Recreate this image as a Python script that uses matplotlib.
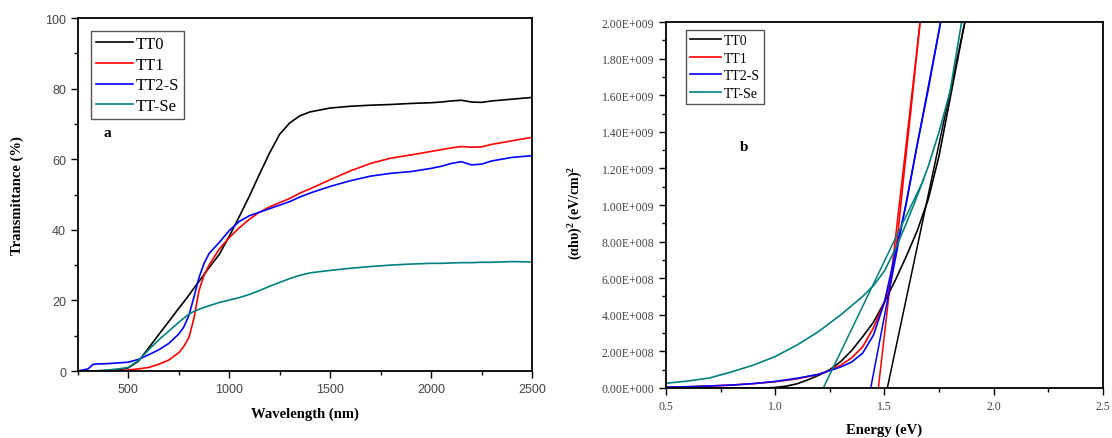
import numpy as np
import matplotlib
matplotlib.use("Agg")
import matplotlib.pyplot as plt
from matplotlib.ticker import MultipleLocator, FuncFormatter

plt.rcParams["font.family"] = "Liberation Serif"
plt.rcParams["mathtext.fontset"] = "custom"
plt.rcParams["mathtext.rm"] = "Liberation Serif:bold"
plt.rcParams["mathtext.it"] = "Liberation Serif:bold"
plt.rcParams["mathtext.bf"] = "Liberation Serif:bold"

# --- (a) transmittance vs wavelength ---
wl = [250, 300, 325, 350, 400, 450, 500, 550, 600, 650, 700, 750, 775, 800, 825, 850,
      875, 900, 950, 1000, 1050, 1100, 1150, 1200, 1250, 1300, 1350, 1400, 1500, 1600,
      1700, 1800, 1900, 2000, 2050, 2100, 2150, 2200, 2250, 2300, 2400, 2500]
t_tt0 = [0, 0, 0, 0, 0.1, 0.3, 0.9, 2.8, 6.5, 10.3, 14.0, 17.8, 19.6, 21.5, 23.5, 25.4,
         27.3, 29.3, 33.0, 38.2, 43.8, 49.6, 55.8, 61.8, 67.1, 70.3, 72.3, 73.4, 74.5, 75.0,
         75.3, 75.5, 75.8, 76.0, 76.2, 76.5, 76.7, 76.2, 76.1, 76.5, 77.0, 77.5]
t_tt1 = [0, 0, 0, 0, 0, 0.1, 0.3, 0.6, 1.0, 1.9, 3.1, 5.2, 7.0, 9.5, 15.0, 22.8,
         27.2, 30.0, 34.5, 37.8, 40.6, 43.0, 45.0, 46.5, 47.7, 48.9, 50.4, 51.6, 54.2, 56.7,
         58.8, 60.3, 61.2, 62.2, 62.7, 63.2, 63.6, 63.4, 63.5, 64.2, 65.2, 66.2]
t_tt2s = [0, 0.6, 1.9, 2.0, 2.1, 2.3, 2.5, 3.3, 4.6, 6.0, 7.8, 10.5, 12.5, 15.8, 21.0, 26.5,
          30.5, 33.3, 36.4, 39.8, 42.4, 44.0, 45.0, 46.0, 47.0, 48.0, 49.3, 50.4, 52.3, 53.9,
          55.2, 56.0, 56.5, 57.4, 58.0, 58.8, 59.3, 58.4, 58.6, 59.5, 60.5, 61.0]
t_ttse = [0, 0, 0, 0.1, 0.3, 0.6, 1.0, 3.0, 6.0, 8.8, 11.3, 13.8, 15.0, 16.1, 16.9, 17.5,
          18.0, 18.5, 19.4, 20.1, 20.8, 21.7, 22.8, 24.0, 25.1, 26.2, 27.1, 27.8, 28.5, 29.1,
          29.6, 30.0, 30.3, 30.5, 30.5, 30.6, 30.7, 30.7, 30.8, 30.8, 31.0, 30.9]

# --- (b) Tauc plot, values x1e8 ---
e_tt0 = [0.5, 0.8, 0.95, 1.0, 1.05, 1.1, 1.15, 1.2, 1.25, 1.3, 1.35, 1.4, 1.45, 1.5,
         1.55, 1.6, 1.65, 1.7, 1.75, 1.8, 1.85, 1.868]
a_tt0 = [0, 0, 0, 0.03, 0.1, 0.23, 0.45, 0.7, 1.0, 1.45, 2.05, 2.8, 3.6, 4.7,
         5.9, 7.2, 8.6, 10.3, 12.7, 15.8, 18.9, 20.0]
e_tt1 = [0.5, 0.6, 0.7, 0.8, 0.9, 1.0, 1.1, 1.2, 1.25, 1.3, 1.35, 1.4, 1.45, 1.5,
         1.53, 1.56, 1.59, 1.62, 1.663]
a_tt1 = [0.04, 0.07, 0.11, 0.16, 0.24, 0.34, 0.5, 0.75, 0.97, 1.25, 1.65, 2.25, 3.3, 4.7,
         5.9, 8.3, 11.8, 15.1, 20.0]
e_tt2s = [0.5, 0.6, 0.7, 0.8, 0.9, 1.0, 1.1, 1.2, 1.25, 1.3, 1.35, 1.4, 1.45, 1.5,
          1.55, 1.6, 1.65, 1.7, 1.757]
a_tt2s = [0.04, 0.07, 0.11, 0.16, 0.24, 0.36, 0.53, 0.75, 0.95, 1.15, 1.42, 1.9, 2.9, 4.7,
          7.4, 10.1, 13.3, 16.3, 20.0]
e_ttse = [0.5, 0.6, 0.7, 0.8, 0.9, 1.0, 1.1, 1.2, 1.3, 1.4, 1.45, 1.5, 1.55, 1.6,
          1.65, 1.7, 1.75, 1.8, 1.853]
a_ttse = [0.26, 0.38, 0.55, 0.88, 1.25, 1.72, 2.35, 3.1, 4.0, 5.0, 5.6, 6.4, 7.6, 9.0,
          10.5, 12.1, 14.0, 16.2, 20.0]

# linear fits (band gap extrapolation): [E start, E end], [value start, value end] (x1e8)
fit_tt0 = ([1.513, 1.868], [0, 20.0])
fit_tt1 = ([1.472, 1.663], [0, 20.0])
fit_tt2s = ([1.437, 1.757], [0, 20.0])
fit_ttse = ([1.22, 1.68], [0, 11.4])

names = ["TT0", "TT1", "TT2-S", "TT-Se"]
colors = ["#000000", "#ff0000", "#0000ff", "#008080"]

fig = plt.figure(figsize=(11.12, 4.39), dpi=100)
ax1 = fig.add_axes([0.0701, 0.1526, 0.4083, 0.8041])
ax2 = fig.add_axes([0.5989, 0.1139, 0.3930, 0.8337])

for ys, nm, c in zip([t_tt0, t_tt1, t_tt2s, t_ttse], names, colors):
    ax1.plot(wl, ys, color=c, lw=1.2, label=nm)

ax1.set_xlim(250, 2500)
ax1.set_ylim(0, 100)
ax1.xaxis.set_major_locator(MultipleLocator(500))
ax1.xaxis.set_minor_locator(MultipleLocator(250))
ax1.yaxis.set_major_locator(MultipleLocator(20))
ax1.yaxis.set_minor_locator(MultipleLocator(10))
ax1.set_xlabel("Wavelength (nm)", fontsize=10.5, fontweight="bold")
ax1.set_ylabel("Transmittance (%)", fontsize=10.5, fontweight="bold")
ax1.xaxis.set_label_coords(0.5, -0.10)
ax1.yaxis.set_label_coords(-0.118, 0.5)
ax1.text(0.064, 0.677, "a", transform=ax1.transAxes, fontsize=11,
         fontweight="bold", ha="center", va="center")
leg1 = ax1.legend(loc="upper left", bbox_to_anchor=(0.0286, 0.963), borderaxespad=0,
                  fontsize=12, handlelength=2.2, handletextpad=0.2, labelspacing=0.28,
                  borderpad=0.3, fancybox=False, framealpha=1)
leg1.get_frame().set_edgecolor("#555555")

curves = [(e_tt0, a_tt0), (e_tt1, a_tt1), (e_tt2s, a_tt2s), (e_ttse, a_ttse)]
fits = [fit_tt0, fit_tt1, fit_tt2s, fit_ttse]
for (ex, ay), (fx, fy), nm, c in zip(curves, fits, names, colors):
    ax2.plot(ex, np.array(ay) * 1e8, color=c, lw=1.2, label=nm)
    ax2.plot(fx, np.array(fy) * 1e8, color=c, lw=1.1)

ax2.set_xlim(0.5, 2.5)
ax2.set_ylim(0, 2e9)
ax2.xaxis.set_major_locator(MultipleLocator(0.5))
ax2.xaxis.set_minor_locator(MultipleLocator(0.25))
ax2.yaxis.set_major_locator(MultipleLocator(2e8))
ax2.yaxis.set_minor_locator(MultipleLocator(1e8))
ax2.xaxis.set_major_formatter(FuncFormatter(lambda v, p: f"{v:.1f}"))


def sci_fmt(v, p):
    if v <= 0:
        return "0.00E+000"
    ex = int(np.floor(np.log10(v) + 1e-9))
    return f"{v / 10 ** ex:.2f}E+{ex:03d}"


ax2.yaxis.set_major_formatter(FuncFormatter(sci_fmt))
ax2.set_xlabel("Energy (eV)", fontsize=10.5, fontweight="bold")
ax2.set_ylabel("(αhυ)$^{2}$ (eV/cm)$^{2}$", fontsize=10, fontweight="bold")
ax2.xaxis.set_label_coords(0.5, -0.095)
ax2.yaxis.set_label_coords(-0.185, 0.48)
ax2.text(0.178, 0.661, "b", transform=ax2.transAxes, fontsize=11,
         fontweight="bold", ha="center", va="center")
leg2 = ax2.legend(loc="upper left", bbox_to_anchor=(0.0458, 0.978), borderaxespad=0,
                  fontsize=10, handlelength=2.2, handletextpad=0.2, labelspacing=0.32,
                  borderpad=0.3, fancybox=False, framealpha=1)
leg2.get_frame().set_edgecolor("#555555")

for ax, fam, fs in [(ax1, "Liberation Sans", 9), (ax2, "Liberation Serif", 8.5)]:
    for s in ax.spines.values():
        s.set_linewidth(1.3)
    ax.tick_params(which="both", direction="out", top=False, right=False,
                   labelcolor="#444444", width=1)
    ax.tick_params(which="major", length=5, labelsize=fs)
    ax.tick_params(which="minor", length=3)
    for lab in ax.get_xticklabels() + ax.get_yticklabels():
        lab.set_family(fam)

fig.savefig("out.png", dpi=100)
